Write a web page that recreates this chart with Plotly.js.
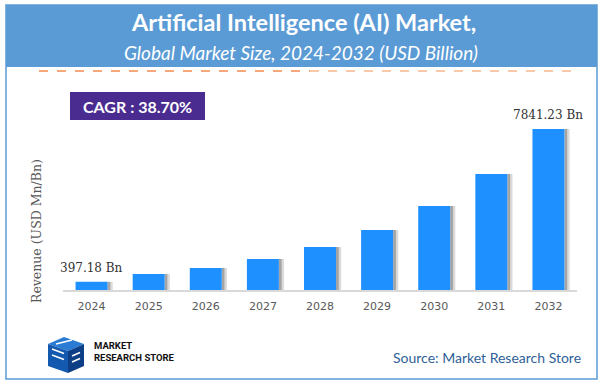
<!DOCTYPE html>
<html>
<head>
<meta charset="utf-8">
<script src="https://cdn.plot.ly/plotly-3.0.1.min.js"></script>
<style>
html,body{margin:0;padding:0;background:#fff;}
#chart{width:606px;height:387px;}
</style>
</head>
<body>
<div id="chart"></div>
<script>
// ---- data ----
const years = ['2024','2025','2026','2027','2028','2029','2030','2031','2032'];
const revenue = [397.18, 779, 1071, 1510, 2094, 2922, 4091, 5649, 7841.23];
const labelUnit = ' Bn';
const cagrText = 'CAGR : 38.70%';
const titleText = 'Artificial Intelligence (AI) Market,';
const subtitleText = 'Global Market Size, 2024-2032 (USD Billion)';
const yTitleText = 'Revenue (USD Mn/Bn)';
const sourceText = 'Source: Market Research Store';

// ---- layout geometry helpers (pixel -> paper) ----
const W = 606, H = 387;
const M = {l: 63, r: 29, t: 100, b: 97};
const PW = W - M.l - M.r, PH = H - M.t - M.b;
const px = x => (x - M.l) / PW;
const py = y => (H - M.b - y) / PH;

const barColor = '#1E90FF';
const barWidth = 0.56;

const traces = [
  { type: 'bar', x: years, y: revenue, width: 0.05, offset: barWidth/2,
    marker: {color: 'rgba(90,90,90,0.55)'}, hoverinfo: 'skip', showlegend: false },
  { type: 'bar', x: years, y: revenue, width: 0.04, offset: barWidth/2 + 0.05,
    marker: {color: 'rgba(150,150,150,0.35)'}, hoverinfo: 'skip', showlegend: false },
  { type: 'bar', x: years, y: revenue, width: barWidth, offset: -barWidth/2,
    marker: {color: barColor}, showlegend: false }
];

const ymax = revenue[revenue.length-1] * 190 / 161;

const annotations = [
  {xref:'paper', yref:'paper', x: px(303), y: py(22), text: titleText, showarrow:false,
   xanchor:'center', yanchor:'middle', font:{family:'Lato', size:23.5, color:'#ffffff', weight:'bold'}},
  {xref:'paper', yref:'paper', x: px(301), y: py(52), text: subtitleText, showarrow:false,
   xanchor:'center', yanchor:'middle', font:{family:'Lato', size:19, color:'#ffffff', style:'italic'}},
  {xref:'paper', yref:'paper', x: px(137.5), y: py(106), text: cagrText, showarrow:false,
   xanchor:'center', yanchor:'middle', font:{family:'Lato', size:16, color:'#ffffff', weight:'bold'}},
  {xref:'paper', yref:'paper', x: px(37), y: py(231), text: yTitleText, showarrow:false, textangle:-90,
   xanchor:'center', yanchor:'middle', font:{family:'DejaVu Serif', size:12.5, color:'#595959'}},
  {xref:'paper', yref:'paper', x: px(583), y: py(357), text: sourceText, showarrow:false,
   xanchor:'right', yanchor:'middle', font:{family:'Lato', size:14, color:'#2F5F98'}},
  {xref:'paper', yref:'paper', x: px(92), y: py(351), text: '<b>MARKET</b><br><b>RESEARCH STORE</b>', showarrow:false,
   xanchor:'left', yanchor:'middle', align:'left', font:{family:'Roboto', size:9.5, color:'#111111'}}
];
// value labels for first and last bar (category axis uses serial index)
[0, revenue.length-1].forEach(i => {
  annotations.push({x: i, y: revenue[i], xref:'x', yref:'y', text: revenue[i].toFixed(2) + labelUnit,
    showarrow:false, xanchor:'center', yanchor:'bottom', yshift:5,
    font:{family:'DejaVu Serif', size:12, color:'#333333'}});
});

const rect = (x0,y0,x1,y1,fill,line,lw,layer) => ({type:'rect', xref:'paper', yref:'paper',
  x0:px(x0), x1:px(x1), y0:py(y1), y1:py(y0), fillcolor:fill, line:{color:line||fill, width:lw||0}, layer: layer||'below'});
const path = (pts, fill) => ({type:'path', xref:'paper', yref:'paper', layer:'above',
  path: 'M' + pts.map(p => px(p[0]) + ',' + py(p[1])).join('L') + 'Z', fillcolor: fill, line:{width:0}});
const seg = (x0,y0,x1,y1,color,w,dash) => ({type:'line', xref:'paper', yref:'paper',
  x0:px(x0), x1:px(x1), y0:py(y0), y1:py(y1), line:{color:color, width:w, dash:dash||'solid'}, layer:'above'});

const shapes = [
  rect(6,5,597,379,'rgba(0,0,0,0)','#5B9BD5',1.5,'below'),
  rect(6,5,597,67,'#5B9BD5'),
  seg(39,71,310,71,'#F28C50',1.5,'dash'),
  seg(310,71,580,71,'#F5B890',1.5,'dash'),
  rect(70,92,205,120,'#4A2C91',null,0,'below'),
  // logo (cube-like)
  path([[48,344],[64,337],[84,344],[68,351]], '#2A7BD4'),
  path([[48,344],[68,351],[68,373],[48,366]], '#1459B0'),
  path([[68,351],[84,344],[84,366],[68,373]], '#0D3F86'),
  seg(52,349,64,353.5,'#ffffff',1.6),
  seg(52,355,64,359.5,'#ffffff',1.6),
  seg(56,344,72,340,'#ffffff',1.4),
  seg(72,356,80,352.5,'#ffffff',1.6),
  seg(72,362,80,358.5,'#ffffff',1.6)
];

const layout = {
  width: W, height: H,
  margin: M,
  paper_bgcolor: '#ffffff', plot_bgcolor: '#ffffff',
  barmode: 'overlay',
  showlegend: false,
  xaxis: {type:'category', showline:true, linecolor:'#D9D9D9', linewidth:1.5, ticks:'',
    ticklabelstandoff: 5,
    showgrid:false, zeroline:false, tickfont:{family:'DejaVu Sans', size:11, color:'#595959'},
    range:[-0.5, years.length-0.5], fixedrange:true},
  yaxis: {range:[0, ymax], showgrid:false, zeroline:false, showticklabels:false, showline:false, fixedrange:true},
  annotations: annotations,
  shapes: shapes
};

Plotly.newPlot('chart', traces, layout, {displayModeBar:false, staticPlot:true});
</script>
</body>
</html>
